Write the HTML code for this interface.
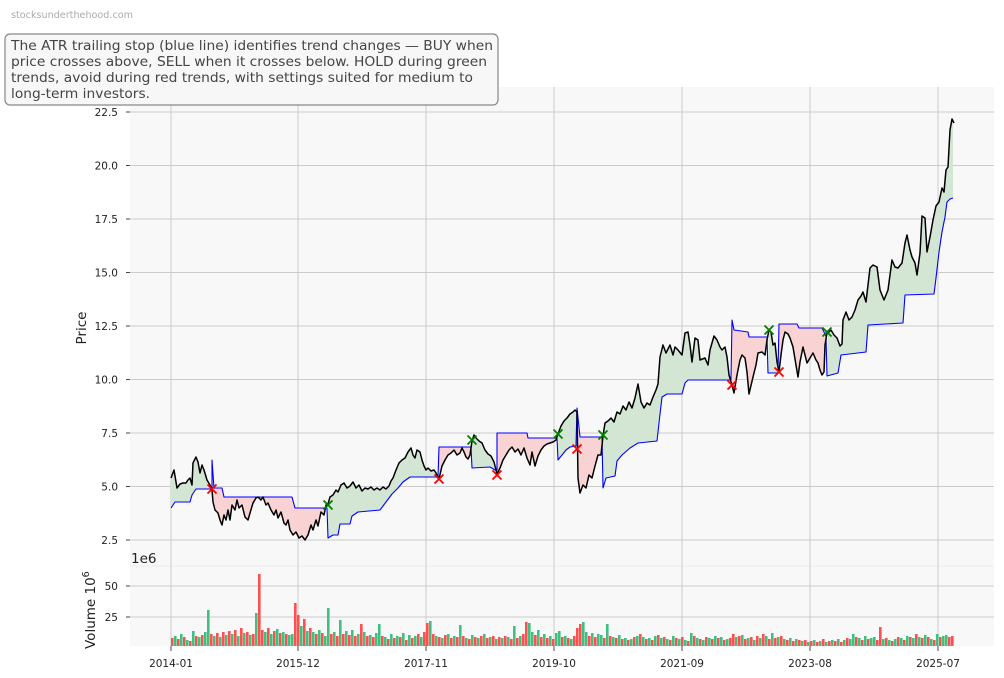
<!DOCTYPE html>
<html><head><meta charset="utf-8"><style>
html,body{margin:0;padding:0;background:#fff;}
svg{display:block;font-family:"DejaVu Sans","Liberation Sans",sans-serif;}
</style></head><body>
<svg width="1004" height="678" viewBox="0 0 1004 678" xmlns="http://www.w3.org/2000/svg">
<rect x="0" y="0" width="1004" height="678" fill="#fff"/>
<text x="11" y="18" font-size="9.5" fill="#aaaaaa" textLength="122" lengthAdjust="spacingAndGlyphs">stocksunderthehood.com</text>
<!-- panel background -->
<rect x="130" y="87" width="864" height="559" fill="#f8f8f8"/>
<line x1="130" y1="566" x2="994" y2="566" stroke="#ebebeb" stroke-width="1"/>
<!-- grid -->
<g stroke="#cccccc" stroke-width="1">
<line x1="130" y1="112" x2="994" y2="112"/><line x1="130" y1="165.5" x2="994" y2="165.5"/>
<line x1="130" y1="219" x2="994" y2="219"/><line x1="130" y1="272.5" x2="994" y2="272.5"/>
<line x1="130" y1="326" x2="994" y2="326"/><line x1="130" y1="379.5" x2="994" y2="379.5"/>
<line x1="130" y1="433" x2="994" y2="433"/><line x1="130" y1="486.5" x2="994" y2="486.5"/>
<line x1="130" y1="540" x2="994" y2="540"/>
<line x1="130" y1="586" x2="994" y2="586"/><line x1="130" y1="617" x2="994" y2="617"/>
<line x1="171" y1="87" x2="171" y2="646"/><line x1="298" y1="87" x2="298" y2="646"/>
<line x1="426" y1="87" x2="426" y2="646"/><line x1="554" y1="87" x2="554" y2="646"/>
<line x1="682" y1="87" x2="682" y2="646"/><line x1="810" y1="87" x2="810" y2="646"/>
<line x1="938" y1="87" x2="938" y2="646"/>
</g>
<!-- fills -->
<g stroke="none">
<polygon fill="#d3e6d3" points="171,478 174,470 177,488 180,484 183,483 186,483 188,480 190,478 192,485 193,463 196,457 198,462 200,473 202,465 204,470 207,480 210,485 212,490 212,489 196,489 192,495 190,502 175,502 171,508"/>
<polygon fill="#f9d3d3" points="212,490 213,502 215,510 218,513 220,520 222,525 224,515 226,520 228,510 230,520 232,505 235,510 237,500 239,508 242,505 245,517 248,520 250,513 253,503 256,498 258,497 261,500 263,497 266,505 268,503 271,510 274,515 276,510 278,518 281,512 284,523 286,525 288,520 290,530 293,535 296,532 299,538 302,536 305,540 308,535 311,525 313,530 316,520 318,526 321,512 324,515 326,505 328,504 327,508 295,508 292,497 224,497 222,488 214,488 212,460"/>
<polygon fill="#d3e6d3" points="328,504 330,497 333,495 336,490 338,492 341,485 344,483 347,488 350,486 353,482 356,488 359,485 362,491 365,488 368,489 371,487 374,490 377,488 380,490 383,487 386,489 389,486 391,481 393,478 396,470 399,463 402,460 405,458 408,452 411,448 413,455 415,458 417,450 420,452 422,460 424,466 426,470 428,468 431,471 434,470 436,473 439,479 438,477 410,477 403,482 398,488 392,494 386,502 380,510 358,512 352,516 350,524 340,524 338,535 333,535 328,538"/>
<polygon fill="#f9d3d3" points="439,479 442,466 445,460 448,455 451,453 454,450 457,455 460,453 462,448 464,452 466,457 468,459 470,455 472,441 471,447 439,447"/>
<polygon fill="#d3e6d3" points="472,441 474,435 476,438 479,441 482,443 485,450 488,454 491,456 494,462 497,474 497,470 495,470 490,467 472,468"/>
<polygon fill="#f9d3d3" points="497,474 500,468 503,460 506,455 509,450 512,447 515,452 518,449 521,455 524,448 527,458 530,465 532,452 535,466 538,456 541,450 544,446 547,444 550,443 553,442 556,440 558,434 557,438 528,438 527,433 497,433"/>
<polygon fill="#d3e6d3" points="558,434 561,426 564,421 567,418 570,414 573,412 575,410 577,412 576,446 570,447 566,450 562,455 558,460"/>
<polygon fill="#f9d3d3" points="577,449 578,478 580,493 583,485 586,488 589,475 592,478 595,466 598,455 601,455 603,436 602,437 580,437 577,408"/>
<polygon fill="#d3e6d3" points="603,436 605,423 608,421 611,418 614,422 617,412 620,414 623,406 626,410 629,402 632,408 635,398 638,384 641,402 644,408 647,403 650,405 653,397 656,390 658,384 660,357 663,345 666,353 670,345 673,355 675,347 678,350 682,355 685,333 688,332 690,345 692,362 695,338 698,340 700,360 705,358 708,365 710,350 714,336 717,340 720,347 722,350 725,347 727,357 729,375 732,385 731,380 688,380 685,383 682,394 667,394 662,397 659,423 657,441 638,443 630,448 622,455 617,461 615,476 606,478 603,488"/>
<polygon fill="#f9d3d3" points="732,385 734,393 737,375 740,360 742,355 745,358 747,372 749,394 753,377 756,365 758,353 762,352 765,355 767,340 769,330 767,337 749,337 748,332 734,330 732,320"/>
<polygon fill="#d3e6d3" points="769,330 771,332 773,345 775,343 777,362 779,372 778,373 768,373"/>
<polygon fill="#f9d3d3" points="779,372 781,355 783,340 785,332 788,334 790,338 793,347 796,365 798,377 800,362 803,347 805,355 807,363 810,358 813,353 816,360 818,363 820,370 822,375 824,372 825,345 827,333 828,333 826,336 822,328 799,328 797,324 779,324"/>
<polygon fill="#d3e6d3" points="828,333 831,330 834,335 837,338 840,346 842,344 843,320 846,312 849,320 852,317 855,310 858,300 861,296 863,292 866,302 868,285 870,268 873,265 877,267 880,290 884,300 888,290 890,275 892,260 895,267 898,268 902,263 905,243 907,235 910,250 912,257 915,263 917,275 920,253 922,216 925,218 927,252 930,237 933,220 936,206 939,202 942,188 944,192 946,170 948,167 950,130 952,119 953,121 953,198 950,199 947,202 945,217 942,232 939,252 936,278 934,294 905,295 903,323 868,325 866,352 841,355 838,373 827,376"/>
</g>
<!-- stop line -->
<polyline fill="none" stroke="#0000ff" stroke-width="1.1" stroke-linejoin="round" points="171,508 175,502 190,502 192,495 196,489 212,489 212,460 214,488 222,488 224,497 292,497 295,508 327,508 328,538 333,535 338,535 340,524 350,524 352,516 358,512 380,510 386,502 392,494 398,488 403,482 410,477 438,477 439,447 471,447 472,468 490,467 495,470 497,470 497,433 527,433 528,438 557,438 558,460 562,455 566,450 570,447 576,446 577,408 580,437 602,437 603,488 606,478 615,476 617,461 622,455 630,448 638,443 657,441 659,423 662,397 667,394 682,394 685,383 688,380 731,380 732,320 734,330 748,332 749,337 767,337 768,373 778,373 779,324 797,324 799,328 822,328 826,336 827,376 838,373 841,355 866,352 868,325 903,323 905,295 934,294 936,278 939,252 942,232 945,217 947,202 950,199 953,198"/>
<!-- price line -->
<polyline fill="none" stroke="#000" stroke-width="1.5" stroke-linejoin="round" points="171,478 174,470 177,488 180,484 183,483 186,483 188,480 190,478 192,485 193,463 196,457 198,462 200,473 202,465 204,470 207,480 210,485 212,490 213,502 215,510 218,513 220,520 222,525 224,515 226,520 228,510 230,520 232,505 235,510 237,500 239,508 242,505 245,517 248,520 250,513 253,503 256,498 258,497 261,500 263,497 266,505 268,503 271,510 274,515 276,510 278,518 281,512 284,523 286,525 288,520 290,530 293,535 296,532 299,538 302,536 305,540 308,535 311,525 313,530 316,520 318,526 321,512 324,515 326,505 328,504 330,497 333,495 336,490 338,492 341,485 344,483 347,488 350,486 353,482 356,488 359,485 362,491 365,488 368,489 371,487 374,490 377,488 380,490 383,487 386,489 389,486 391,481 393,478 396,470 399,463 402,460 405,458 408,452 411,448 413,455 415,458 417,450 420,452 422,460 424,466 426,470 428,468 431,471 434,470 436,473 439,479 442,466 445,460 448,455 451,453 454,450 457,455 460,453 462,448 464,452 466,457 468,459 470,455 472,441 474,435 476,438 479,441 482,443 485,450 488,454 491,456 494,462 497,474 500,468 503,460 506,455 509,450 512,447 515,452 518,449 521,455 524,448 527,458 530,465 532,452 535,466 538,456 541,450 544,446 547,444 550,443 553,442 556,440 558,434 561,426 564,421 567,418 570,414 573,412 575,410 577,412 578,478 580,493 583,485 586,488 589,475 592,478 595,466 598,455 601,455 603,436 605,423 608,421 611,418 614,422 617,412 620,414 623,406 626,410 629,402 632,408 635,398 638,384 641,402 644,408 647,403 650,405 653,397 656,390 658,384 660,357 663,345 666,353 670,345 673,355 675,347 678,350 682,355 685,333 688,332 690,345 692,362 695,338 698,340 700,360 705,358 708,365 710,350 714,336 717,340 720,347 722,350 725,347 727,357 729,375 732,385 734,393 737,375 740,360 742,355 745,358 747,372 749,394 753,377 756,365 758,353 762,352 765,355 767,340 769,330 771,332 773,345 775,343 777,362 779,372 781,355 783,340 785,332 788,334 790,338 793,347 796,365 798,377 800,362 803,347 805,355 807,363 810,358 813,353 816,360 818,363 820,370 822,375 824,372 825,345 827,333 828,333 831,330 834,335 837,338 840,346 842,344 843,320 846,312 849,320 852,317 855,310 858,300 861,296 863,292 866,302 868,285 870,268 873,265 877,267 880,290 884,300 888,290 890,275 892,260 895,267 898,268 902,263 905,243 907,235 910,250 912,257 915,263 917,275 920,253 922,216 925,218 927,252 930,237 933,220 936,206 939,202 942,188 944,192 946,170 948,167 950,130 952,119 954,123"/>
<!-- markers -->
<g stroke-width="1.8" fill="none">
<path stroke="#ff0000" d="M207.5 484.5l9 9M216.5 484.5l-9 9 M434.5 474.5l9 9M443.5 474.5l-9 9 M492.5 470.5l9 9M501.5 470.5l-9 9 M572.5 444.5l9 9M581.5 444.5l-9 9 M727.5 380.5l9 9M736.5 380.5l-9 9 M774.5 367.5l9 9M783.5 367.5l-9 9"/>
<path stroke="#008000" d="M323.5 500.5l9 9M332.5 500.5l-9 9 M467.5 435.5l9 9M476.5 435.5l-9 9 M553.5 429.5l9 9M562.5 429.5l-9 9 M598.5 430.5l9 9M607.5 430.5l-9 9 M764.5 325.5l9 9M773.5 325.5l-9 9 M822.5 327.5l9 9M831.5 327.5l-9 9"/>
</g>
<!-- volume bars -->
<path fill="#ff5050" d="M171 646h2.6v-8h-2.6zM177 646h2.6v-7h-2.6zM183 646h2.6v-9h-2.6zM189 646h2.6v-5h-2.6zM195 646h2.6v-10h-2.6zM201 646h2.6v-11h-2.6zM210 646h2.6v-12h-2.6zM216 646h2.6v-13h-2.6zM222 646h2.6v-14h-2.6zM228 646h2.6v-15h-2.6zM234 646h2.6v-16h-2.6zM240 646h2.6v-18h-2.6zM246 646h2.6v-14h-2.6zM252 646h2.6v-12h-2.6zM258 646h2.6v-72h-2.6zM261 646h2.6v-16h-2.6zM267 646h2.6v-18h-2.6zM273 646h2.6v-15h-2.6zM279 646h2.6v-13h-2.6zM285 646h2.6v-12h-2.6zM294 646h2.6v-43h-2.6zM297 646h2.6v-31h-2.6zM303 646h2.6v-27h-2.6zM309 646h2.6v-18h-2.6zM315 646h2.6v-12h-2.6zM321 646h2.6v-13h-2.6zM330 646h2.6v-12h-2.6zM336 646h2.6v-10h-2.6zM342 646h2.6v-12h-2.6zM348 646h2.6v-11h-2.6zM354 646h2.6v-10h-2.6zM360 646h2.6v-22h-2.6zM366 646h2.6v-10h-2.6zM372 646h2.6v-9h-2.6zM381 646h2.6v-10h-2.6zM387 646h2.6v-7h-2.6zM393 646h2.6v-8h-2.6zM399 646h2.6v-9h-2.6zM405 646h2.6v-6h-2.6zM411 646h2.6v-8h-2.6zM417 646h2.6v-12h-2.6zM423 646h2.6v-14h-2.6zM426 646h2.6v-23h-2.6zM432 646h2.6v-12h-2.6zM438 646h2.6v-9h-2.6zM444 646h2.6v-11h-2.6zM450 646h2.6v-8h-2.6zM456 646h2.6v-9h-2.6zM462 646h2.6v-10h-2.6zM468 646h2.6v-7h-2.6zM474 646h2.6v-9h-2.6zM480 646h2.6v-10h-2.6zM486 646h2.6v-8h-2.6zM492 646h2.6v-10h-2.6zM498 646h2.6v-9h-2.6zM504 646h2.6v-10h-2.6zM510 646h2.6v-7h-2.6zM516 646h2.6v-8h-2.6zM522 646h2.6v-12h-2.6zM525 646h2.6v-24h-2.6zM534 646h2.6v-11h-2.6zM540 646h2.6v-9h-2.6zM546 646h2.6v-8h-2.6zM552 646h2.6v-7h-2.6zM561 646h2.6v-9h-2.6zM567 646h2.6v-8h-2.6zM573 646h2.6v-10h-2.6zM576 646h2.6v-18h-2.6zM579 646h2.6v-22h-2.6zM588 646h2.6v-10h-2.6zM594 646h2.6v-9h-2.6zM603 646h2.6v-8h-2.6zM609 646h2.6v-10h-2.6zM615 646h2.6v-8h-2.6zM621 646h2.6v-7h-2.6zM627 646h2.6v-6h-2.6zM633 646h2.6v-9h-2.6zM639 646h2.6v-12h-2.6zM645 646h2.6v-7h-2.6zM651 646h2.6v-6h-2.6zM657 646h2.6v-11h-2.6zM663 646h2.6v-9h-2.6zM669 646h2.6v-6h-2.6zM675 646h2.6v-8h-2.6zM681 646h2.6v-9h-2.6zM687 646h2.6v-5h-2.6zM693 646h2.6v-10h-2.6zM699 646h2.6v-7h-2.6zM705 646h2.6v-9h-2.6zM711 646h2.6v-7h-2.6zM717 646h2.6v-8h-2.6zM723 646h2.6v-6h-2.6zM729 646h2.6v-8h-2.6zM732 646h2.6v-12h-2.6zM738 646h2.6v-10h-2.6zM744 646h2.6v-7h-2.6zM750 646h2.6v-9h-2.6zM756 646h2.6v-10h-2.6zM762 646h2.6v-12h-2.6zM768 646h2.6v-7h-2.6zM774 646h2.6v-8h-2.6zM780 646h2.6v-10h-2.6zM786 646h2.6v-6h-2.6zM792 646h2.6v-5h-2.6zM798 646h2.6v-6h-2.6zM804 646h2.6v-6h-2.6zM810 646h2.6v-5h-2.6zM816 646h2.6v-4h-2.6zM822 646h2.6v-7h-2.6zM828 646h2.6v-5h-2.6zM834 646h2.6v-5h-2.6zM840 646h2.6v-4h-2.6zM846 646h2.6v-8h-2.6zM855 646h2.6v-9h-2.6zM861 646h2.6v-6h-2.6zM867 646h2.6v-7h-2.6zM876 646h2.6v-6h-2.6zM879 646h2.6v-19h-2.6zM885 646h2.6v-8h-2.6zM891 646h2.6v-5h-2.6zM897 646h2.6v-9h-2.6zM903 646h2.6v-6h-2.6zM909 646h2.6v-9h-2.6zM915 646h2.6v-12h-2.6zM921 646h2.6v-8h-2.6zM927 646h2.6v-9h-2.6zM933 646h2.6v-6h-2.6zM939 646h2.6v-9h-2.6zM948 646h2.6v-9h-2.6zM951 646h2.6v-10h-2.6z"/>
<path fill="#40c080" d="M174 646h2.6v-10h-2.6zM180 646h2.6v-12h-2.6zM186 646h2.6v-6h-2.6zM192 646h2.6v-15h-2.6zM198 646h2.6v-9h-2.6zM204 646h2.6v-14h-2.6zM207 646h2.6v-36h-2.6zM213 646h2.6v-10h-2.6zM219 646h2.6v-9h-2.6zM225 646h2.6v-11h-2.6zM231 646h2.6v-12h-2.6zM237 646h2.6v-10h-2.6zM243 646h2.6v-13h-2.6zM249 646h2.6v-11h-2.6zM255 646h2.6v-33h-2.6zM264 646h2.6v-14h-2.6zM270 646h2.6v-12h-2.6zM276 646h2.6v-17h-2.6zM282 646h2.6v-14h-2.6zM288 646h2.6v-11h-2.6zM291 646h2.6v-12h-2.6zM300 646h2.6v-20h-2.6zM306 646h2.6v-15h-2.6zM312 646h2.6v-14h-2.6zM318 646h2.6v-16h-2.6zM324 646h2.6v-10h-2.6zM327 646h2.6v-38h-2.6zM333 646h2.6v-14h-2.6zM339 646h2.6v-26h-2.6zM345 646h2.6v-15h-2.6zM351 646h2.6v-16h-2.6zM357 646h2.6v-12h-2.6zM363 646h2.6v-14h-2.6zM369 646h2.6v-11h-2.6zM375 646h2.6v-13h-2.6zM378 646h2.6v-22h-2.6zM384 646h2.6v-9h-2.6zM390 646h2.6v-12h-2.6zM396 646h2.6v-10h-2.6zM402 646h2.6v-13h-2.6zM408 646h2.6v-11h-2.6zM414 646h2.6v-10h-2.6zM420 646h2.6v-9h-2.6zM429 646h2.6v-25h-2.6zM435 646h2.6v-10h-2.6zM441 646h2.6v-8h-2.6zM447 646h2.6v-12h-2.6zM453 646h2.6v-10h-2.6zM459 646h2.6v-21h-2.6zM465 646h2.6v-8h-2.6zM471 646h2.6v-11h-2.6zM477 646h2.6v-8h-2.6zM483 646h2.6v-12h-2.6zM489 646h2.6v-9h-2.6zM495 646h2.6v-7h-2.6zM501 646h2.6v-8h-2.6zM507 646h2.6v-9h-2.6zM513 646h2.6v-20h-2.6zM519 646h2.6v-10h-2.6zM528 646h2.6v-23h-2.6zM531 646h2.6v-14h-2.6zM537 646h2.6v-16h-2.6zM543 646h2.6v-12h-2.6zM549 646h2.6v-10h-2.6zM555 646h2.6v-13h-2.6zM558 646h2.6v-15h-2.6zM564 646h2.6v-10h-2.6zM570 646h2.6v-7h-2.6zM582 646h2.6v-24h-2.6zM585 646h2.6v-14h-2.6zM591 646h2.6v-13h-2.6zM597 646h2.6v-12h-2.6zM600 646h2.6v-11h-2.6zM606 646h2.6v-22h-2.6zM612 646h2.6v-9h-2.6zM618 646h2.6v-11h-2.6zM624 646h2.6v-8h-2.6zM630 646h2.6v-7h-2.6zM636 646h2.6v-10h-2.6zM642 646h2.6v-9h-2.6zM648 646h2.6v-8h-2.6zM654 646h2.6v-10h-2.6zM660 646h2.6v-8h-2.6zM666 646h2.6v-7h-2.6zM672 646h2.6v-10h-2.6zM678 646h2.6v-7h-2.6zM684 646h2.6v-6h-2.6zM690 646h2.6v-13h-2.6zM696 646h2.6v-8h-2.6zM702 646h2.6v-6h-2.6zM708 646h2.6v-8h-2.6zM714 646h2.6v-10h-2.6zM720 646h2.6v-9h-2.6zM726 646h2.6v-7h-2.6zM735 646h2.6v-9h-2.6zM741 646h2.6v-11h-2.6zM747 646h2.6v-8h-2.6zM753 646h2.6v-6h-2.6zM759 646h2.6v-8h-2.6zM765 646h2.6v-10h-2.6zM771 646h2.6v-13h-2.6zM777 646h2.6v-9h-2.6zM783 646h2.6v-7h-2.6zM789 646h2.6v-8h-2.6zM795 646h2.6v-7h-2.6zM801 646h2.6v-5h-2.6zM807 646h2.6v-4h-2.6zM813 646h2.6v-6h-2.6zM819 646h2.6v-5h-2.6zM825 646h2.6v-4h-2.6zM831 646h2.6v-6h-2.6zM837 646h2.6v-7h-2.6zM843 646h2.6v-6h-2.6zM849 646h2.6v-7h-2.6zM852 646h2.6v-12h-2.6zM858 646h2.6v-8h-2.6zM864 646h2.6v-10h-2.6zM870 646h2.6v-8h-2.6zM873 646h2.6v-9h-2.6zM882 646h2.6v-7h-2.6zM888 646h2.6v-6h-2.6zM894 646h2.6v-7h-2.6zM900 646h2.6v-8h-2.6zM906 646h2.6v-10h-2.6zM912 646h2.6v-8h-2.6zM918 646h2.6v-9h-2.6zM924 646h2.6v-11h-2.6zM930 646h2.6v-7h-2.6zM936 646h2.6v-12h-2.6zM942 646h2.6v-10h-2.6zM945 646h2.6v-11h-2.6z"/>
<!-- y ticks -->
<g stroke="#333" stroke-width="0.9">
<line x1="126" y1="112" x2="130" y2="112"/><line x1="126" y1="165.5" x2="130" y2="165.5"/>
<line x1="126" y1="219" x2="130" y2="219"/><line x1="126" y1="272.5" x2="130" y2="272.5"/>
<line x1="126" y1="326" x2="130" y2="326"/><line x1="126" y1="379.5" x2="130" y2="379.5"/>
<line x1="126" y1="433" x2="130" y2="433"/><line x1="126" y1="486.5" x2="130" y2="486.5"/>
<line x1="126" y1="540" x2="130" y2="540"/>
<line x1="126" y1="586" x2="130" y2="586"/><line x1="126" y1="617" x2="130" y2="617"/>
<line x1="171" y1="646" x2="171" y2="651"/><line x1="298" y1="646" x2="298" y2="651"/>
<line x1="426" y1="646" x2="426" y2="651"/><line x1="554" y1="646" x2="554" y2="651"/>
<line x1="682" y1="646" x2="682" y2="651"/><line x1="810" y1="646" x2="810" y2="651"/>
<line x1="938" y1="646" x2="938" y2="651"/>
</g>
<g font-size="10.5" fill="#222" text-anchor="end">
<text x="118" y="116">22.5</text><text x="118" y="169.5">20.0</text>
<text x="118" y="223">17.5</text><text x="118" y="276.5">15.0</text>
<text x="118" y="330">12.5</text><text x="118" y="383.5">10.0</text>
<text x="118" y="437">7.5</text><text x="118" y="490.5">5.0</text>
<text x="118" y="544">2.5</text>
<text x="118" y="590">50</text><text x="118" y="621">25</text>
</g>
<g font-size="10.5" fill="#222" text-anchor="middle">
<text x="171" y="667">2014-01</text><text x="298" y="667">2015-12</text>
<text x="426" y="667">2017-11</text><text x="554" y="667">2019-10</text>
<text x="682" y="667">2021-09</text><text x="810" y="667">2023-08</text>
<text x="938" y="667">2025-07</text>
</g>
<text x="131" y="563" font-size="13.5" fill="#222">1e6</text>
<text transform="translate(86,328) rotate(-90)" font-size="13.5" fill="#222" text-anchor="middle">Price</text>
<text transform="translate(95,649) rotate(-90)" font-size="13.5" fill="#222">Volume  10<tspan dy="-6" font-size="9.5">6</tspan></text>
<!-- annotation box -->
<rect x="5" y="34" width="493" height="71" rx="5" ry="5" fill="#f7f7f7" stroke="#888" stroke-width="1.2"/>
<g font-size="13.5" fill="#444">
<text x="11" y="50" textLength="482" lengthAdjust="spacingAndGlyphs">The ATR trailing stop (blue line) identifies trend changes — BUY when</text>
<text x="11" y="66" textLength="476" lengthAdjust="spacingAndGlyphs">price crosses above, SELL when it crosses below. HOLD during green</text>
<text x="11" y="82" textLength="462" lengthAdjust="spacingAndGlyphs">trends, avoid during red trends, with settings suited for medium to</text>
<text x="11" y="98" textLength="139" lengthAdjust="spacingAndGlyphs">long-term investors.</text>
</g>
</svg>
</body></html>
